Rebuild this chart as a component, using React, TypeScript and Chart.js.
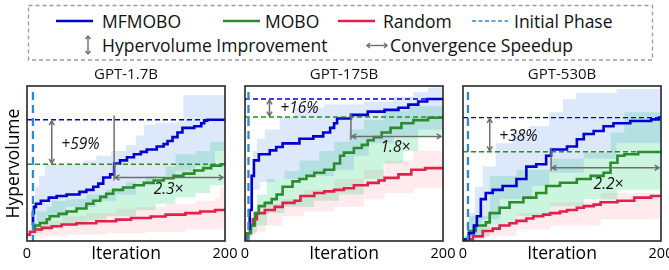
import React, { useEffect, useRef } from 'react';
import { Chart, registerables } from 'chart.js';

Chart.register(...registerables);

type Pt = [number, number];

// ---------------- data ----------------
const panelTitles = ['GPT-1.7B', 'GPT-175B', 'GPT-530B'];
const xTickLabels = ['0', '200'];
const xAxisTitle = 'Iteration';
const yAxisTitle = 'Hypervolume';
const seriesNames = ['MFMOBO', 'MOBO', 'Random'];
const initialPhaseEnd = [6, 3.5, 5];
const improvementLabels = ['+59%', '+16%', '+38%'];
const speedupLabels = ['2.3×', '1.8×', '2.2×'];

// GPT-1.7B
const p1Mfmobo: Pt[] = [[5,10],[6,18],[7,22],[9,24],[14,26],[22,28],[30,29],[40,30],[53,31.7],[60,33],[67,35],[72,37],[77,41],[84,43],[88,50],[94,52],[101,54],[108,56],[115,57.5],[121,59],[131,61],[138,62.5],[142,64.5],[147,67],[152,70],[157,73],[169,74],[176,76],[179,77.6],[182,78.2],[200,78.2]];
const p1MfmoboUpper: Pt[] = [[5,12],[6,25],[8,35],[12,42],[18,49],[40,50],[57,52],[70,55],[85,58],[100,62],[110,68],[118,75],[130,76],[150,77],[158,94],[200,96]];
const p1MfmoboLower: Pt[] = [[5,8],[10,12],[20,16],[40,22],[70,26],[90,30],[110,38],[130,42],[150,45],[170,48],[190,58],[200,62]];
const p1Mobo: Pt[] = [[5,8],[8,10],[13,11.6],[20,14],[23,16],[32,17.5],[40,19],[50,21],[60,24],[67,26],[74,28.5],[80,30.5],[87,33],[97,34.5],[108,36],[118,37.5],[128,39],[138,40.5],[148,42],[158,43.5],[169,45.5],[178,47],[186,48.6],[196,49.5],[200,49.5]];
const p1MoboUpper: Pt[] = [[5,12],[10,19],[20,22],[25,26],[40,27],[60,30],[80,33],[100,38],[120,42],[140,48],[150,56],[170,58],[185,64],[200,64]];
const p1MoboLower: Pt[] = [[5,5],[15,8],[30,10],[60,13],[80,16],[110,20],[130,24],[150,28],[170,31],[185,36],[200,40]];
const p1Random: Pt[] = [[0,4],[3,6],[8,7.4],[15,8.5],[25,9.5],[35,10.6],[50,11.5],[70,12.7],[90,13.8],[105,14.8],[125,15.8],[140,17],[160,18],[175,19],[190,20],[200,21]];
const p1RandomUpper: Pt[] = [[0,5],[5,10],[15,13],[35,16],[60,18],[90,21],[110,22],[140,24],[170,26],[190,28],[195,35],[200,35]];
const p1RandomLower: Pt[] = [[0,2],[10,3],[40,4],[80,5],[120,6],[160,7.5],[200,8.5]];

// GPT-175B
const p2Mfmobo: Pt[] = [[3,8],[4.8,20],[6.8,42],[9,52],[14,56],[25,58.5],[31.5,60.6],[38,63],[55,66],[69,67.5],[79,70],[86,73],[90,76],[93,79],[107,81.4],[124,83.5],[141,84.6],[155,86],[165,88],[175,90],[184,91.6],[200,91.6]];
const p2MfmoboUpper: Pt[] = [[3,10],[5,40],[8,58],[12,66],[20,72],[35,80],[50,86],[80,88],[120,90],[150,93],[170,96],[185,99],[200,100]];
const p2MfmoboLower: Pt[] = [[3,5],[5,20],[8,33],[15,38],[30,40],[60,42],[90,46],[110,55],[125,63],[150,68],[175,72],[200,74]];
const p2Mobo: Pt[] = [[0,3],[3,5],[6,10],[10,18],[14,22.5],[20,24.6],[27,27],[32,30],[38,35],[48,38.5],[55,40],[62,42],[70,44],[80,46],[90,50],[96,55],[100,57],[110,60],[118,62],[124,65],[130,67],[138,70],[147,73],[158,76],[170,78],[185,79.5],[200,80]];
const p2MoboUpper: Pt[] = [[0,4],[6,15],[12,30],[22,40],[40,45],[55,52],[75,58],[90,64],[105,72],[120,78],[140,84],[165,87],[200,89]];
const p2MoboLower: Pt[] = [[0,2],[6,5],[12,10],[22,18],[40,22],[70,26],[95,30],[120,40],[140,50],[160,58],[175,68],[200,72]];
const p2Random: Pt[] = [[0,1],[2,5],[5,10],[8,14],[12,18],[20,20],[30,22],[38,24.6],[50,26],[56,29],[70,31],[80,32],[90,33],[100,34],[110,36],[124,37.5],[135,39],[141,40.7],[155,43],[168,46],[182,47],[200,48]];
const p2RandomUpper: Pt[] = [[0,3],[5,12],[10,18],[20,24],[38,27],[60,33],[90,40],[120,46],[141,52],[170,58],[200,65]];
const p2RandomLower: Pt[] = [[0,0],[5,3],[10,6],[20,10],[38,16],[60,19],[90,22],[120,27],[141,31],[170,34],[200,37.5]];

// GPT-530B
const p3Mfmobo: Pt[] = [[1,1],[6,5],[11,10],[14,16],[18,27],[23,31],[30,33],[40,35.5],[54,40],[64,48],[74,49.5],[84,55],[89,59],[105,61],[115,65.6],[122,69],[132,71],[142,74],[152,76],[169,77.4],[190,78.5],[198,79.6],[200,79.6]];
const p3MfmoboUpper: Pt[] = [[1,3],[6,18],[12,35],[20,48],[33,63],[50,70],[67,74],[87,83],[101,91.5],[114,95.5],[155,98],[200,99]];
const p3MfmoboLower: Pt[] = [[1,0],[6,3],[20,14],[37,27],[70,35.5],[87,44],[122,53],[155,63],[200,68]];
const p3Mobo: Pt[] = [[1,1],[6,6.5],[13,10],[23,12],[27,18],[37,21.5],[47,25],[61,28],[74,31],[84,35.5],[98,37.6],[115,40],[129,42],[142,44],[149,50.5],[156,55],[163,56],[177,57.4],[200,57.6]];
const p3MoboUpper: Pt[] = [[1,3],[6,16],[27,42],[54,46],[88,53],[122,57],[149,70],[163,83],[200,83]];
const p3MoboLower: Pt[] = [[1,0],[6,3],[27,10],[54,16],[88,22.5],[122,27],[156,33],[200,35.5]];
const p3Random: Pt[] = [[0,1],[10,3],[20,6.5],[30,8],[37,10],[47,11.5],[54,13],[64,14.5],[71,16],[81,17],[88,18],[98,19],[105,20],[115,21.5],[122,22.5],[132,23.5],[139,25],[156,26],[173,28],[190,29],[200,29]];
const p3RandomUpper: Pt[] = [[0,2],[20,10],[54,18],[88,25],[139,31],[200,37.6]];
const p3RandomLower: Pt[] = [[0,0],[20,3],[54,7.5],[88,10],[139,14],[200,18]];

const panelMeans: Pt[][][] = [
  [p1Mfmobo, p1Mobo, p1Random],
  [p2Mfmobo, p2Mobo, p2Random],
  [p3Mfmobo, p3Mobo, p3Random],
];
const panelUppers: Pt[][][] = [
  [p1MfmoboUpper, p1MoboUpper, p1RandomUpper],
  [p2MfmoboUpper, p2MoboUpper, p2RandomUpper],
  [p3MfmoboUpper, p3MoboUpper, p3RandomUpper],
];
const panelLowers: Pt[][][] = [
  [p1MfmoboLower, p1MoboLower, p1RandomLower],
  [p2MfmoboLower, p2MoboLower, p2RandomLower],
  [p3MfmoboLower, p3MoboLower, p3RandomLower],
];

// ---------------- styles / layout ----------------
const FONT = "'Open Sans', Lato, sans-serif";
const LINE_COLORS = ['#0000d2', '#2a8c2a', '#e2204c'];
const BAND_COLORS = ['rgba(100,150,230,0.22)', 'rgba(40,215,125,0.24)', 'rgba(255,130,155,0.17)'];
const INIT_COLOR = '#2f88d2';
const GRAY = '#6e6e6e';

Chart.defaults.font.family = FONT;

// annotation placement (data units)
const annotPlacement = [
  { vArrowX: 25, pctX: 54, pctY: 62, crossTop: 81, hArrowY: 41, speedX: 143, speedY: 33 },
  { vArrowX: 24.7, pctX: 55, pctY: 85.7, crossTop: 82.4, hArrowY: 67.5, speedX: 152, speedY: 60 },
  { vArrowX: 27, pctX: 56, pctY: 67.3, crossTop: 60.2, hArrowY: 47.3, speedX: 147, speedY: 36.6 },
];

const canvasGeom = [
  { left: 0, width: 241, padRight: 16 },
  { left: 218, width: 241, padRight: 16 },
  { left: 436, width: 233, padRight: 8 },
];
const CANVAS_TOP = 60;
const CANVAS_H = 210;

function doubleArrow(ctx: CanvasRenderingContext2D, x1: number, y1: number, x2: number, y2: number, size = 5) {
  ctx.beginPath();
  ctx.moveTo(x1, y1);
  ctx.lineTo(x2, y2);
  ctx.stroke();
  const ang = Math.atan2(y2 - y1, x2 - x1);
  const head = (x: number, y: number, a: number) => {
    ctx.beginPath();
    ctx.moveTo(x + size * Math.cos(a + 2.6), y + size * Math.sin(a + 2.6));
    ctx.lineTo(x, y);
    ctx.lineTo(x + size * Math.cos(a - 2.6), y + size * Math.sin(a - 2.6));
    ctx.stroke();
  };
  head(x2, y2, ang);
  head(x1, y1, ang + Math.PI);
}

function makeAnnotPlugin(idx: number) {
  return {
    id: 'panelAnnot' + idx,
    afterDatasetsDraw(chart: any) {
      const { ctx, chartArea: a, scales } = chart;
      const X = (v: number) => scales.x.getPixelForValue(v);
      const Y = (v: number) => scales.y.getPixelForValue(v);
      const blue = panelMeans[idx][0];
      const green = panelMeans[idx][1];
      const blueLevel = blue[blue.length - 1][1];
      const greenLevel = green[green.length - 1][1];
      const cross = (blue.find((p) => p[1] >= greenLevel) || blue[blue.length - 1])[0];
      const L = annotPlacement[idx];
      ctx.save();
      ctx.lineWidth = 1.4;
      ctx.setLineDash([5, 3]);
      ctx.strokeStyle = LINE_COLORS[0];
      ctx.beginPath(); ctx.moveTo(a.left, Y(blueLevel)); ctx.lineTo(a.right, Y(blueLevel)); ctx.stroke();
      ctx.strokeStyle = LINE_COLORS[1];
      ctx.beginPath(); ctx.moveTo(a.left, Y(greenLevel)); ctx.lineTo(a.right, Y(greenLevel)); ctx.stroke();
      // initial phase
      ctx.strokeStyle = INIT_COLOR;
      ctx.lineWidth = 2.3;
      ctx.setLineDash([8, 5]);
      ctx.beginPath(); ctx.moveTo(X(initialPhaseEnd[idx]), a.top + 6); ctx.lineTo(X(initialPhaseEnd[idx]), a.bottom); ctx.stroke();
      ctx.setLineDash([]);
      // improvement arrow
      ctx.strokeStyle = GRAY;
      ctx.lineWidth = 1.5;
      doubleArrow(ctx, X(L.vArrowX), Y(blueLevel) + 1, X(L.vArrowX), Y(greenLevel) - 1);
      // speed-up marker and arrow
      ctx.beginPath(); ctx.moveTo(X(cross), Y(L.crossTop)); ctx.lineTo(X(cross), Y(L.hArrowY) + 3); ctx.stroke();
      doubleArrow(ctx, X(cross) + 1, Y(L.hArrowY), a.right - 2, Y(L.hArrowY));
      // labels
      ctx.fillStyle = '#111';
      ctx.font = `italic 15.5px ${FONT}`;
      ctx.textAlign = 'center';
      ctx.textBaseline = 'middle';
      ctx.fillText(improvementLabels[idx], X(L.pctX), Y(L.pctY));
      ctx.fillText(speedupLabels[idx], X(L.speedX), Y(L.speedY));
      ctx.restore();
    },
    afterDraw(chart: any) {
      const { ctx, chartArea: a } = chart;
      ctx.save();
      ctx.strokeStyle = '#262626';
      ctx.lineWidth = 1.6;
      ctx.strokeRect(a.left, a.top, a.right - a.left, a.bottom - a.top);
      ctx.restore();
    },
  };
}

const toXY = (pts: Pt[]) => pts.map(([x, y]) => ({ x, y }));

function Panel({ idx }: { idx: number }) {
  const ref = useRef<HTMLCanvasElement>(null);
  const g = canvasGeom[idx];
  useEffect(() => {
    const datasets: any[] = [];
    for (let i = 0; i < 3; i++) {
      datasets.push({
        label: seriesNames[i],
        data: toXY(panelMeans[idx][i]),
        borderColor: LINE_COLORS[i],
        backgroundColor: LINE_COLORS[i],
        borderWidth: 2.6,
        stepped: true,
        pointRadius: 0,
        fill: false,
        order: i,
      });
    }
    for (let i = 0; i < 3; i++) {
      datasets.push({
        label: seriesNames[i] + ' upper',
        data: toXY(panelUppers[idx][i]),
        borderColor: 'rgba(0,0,0,0)',
        backgroundColor: BAND_COLORS[i],
        borderWidth: 0,
        stepped: true,
        pointRadius: 0,
        fill: '+1',
        order: 3 + i,
      });
      datasets.push({
        label: seriesNames[i] + ' lower',
        data: toXY(panelLowers[idx][i]),
        borderColor: 'rgba(0,0,0,0)',
        backgroundColor: 'rgba(0,0,0,0)',
        borderWidth: 0,
        stepped: true,
        pointRadius: 0,
        fill: false,
        order: 3 + i,
      });
    }
    const chart = new Chart(ref.current!, {
      type: 'line',
      data: { datasets },
      plugins: [makeAnnotPlugin(idx)],
      options: {
        responsive: false,
        animation: false,
        devicePixelRatio: 1,
        layout: { padding: { left: 0, right: g.padRight, top: 0, bottom: 0 } },
        plugins: {
          legend: { display: false },
          tooltip: { enabled: false },
          title: {
            display: true,
            fullSize: false,
            text: panelTitles[idx],
            color: '#111',
            font: { family: FONT, size: 15, weight: 'normal' },
            padding: { top: 5.7, bottom: 2.3 },
          },
        },
        scales: {
          x: {
            type: 'linear',
            min: 0,
            max: 200,
            grid: { display: false, drawTicks: false },
            border: { display: false },
            ticks: {
              stepSize: 200,
              autoSkip: false,
              maxRotation: 0,
              padding: 4,
              color: '#000',
              font: { family: FONT, size: 14.5, weight: 'normal' },
              callback: (v: any) => (v === 0 ? xTickLabels[0] : v === 200 ? xTickLabels[1] : ''),
            },
            title: {
              display: true,
              text: xAxisTitle,
              color: '#000',
              font: { family: FONT, size: 17.5, weight: 'normal' },
              padding: { top: 0, bottom: 5.5 },
            },
            afterFit: (s: any) => { s.height = 29; s.paddingLeft = 0; s.paddingRight = 0; },
          },
          y: {
            min: 0,
            max: 100,
            grid: { display: false, drawTicks: false },
            border: { display: false },
            ticks: { display: false },
            title: {
              display: idx === 0,
              text: yAxisTitle,
              color: '#000',
              font: { family: FONT, size: 17.5, weight: 'normal' },
              padding: { top: 3.5, bottom: 0 },
            },
            afterFit: (s: any) => { s.width = 27; s.paddingTop = 0; s.paddingBottom = 0; },
          },
        },
      } as any,
    });
    return () => chart.destroy();
  }, [idx]);
  return (
    <canvas
      ref={ref}
      width={g.width}
      height={CANVAS_H}
      style={{ position: 'absolute', left: g.left, top: CANVAS_TOP, width: g.width, height: CANVAS_H }}
    />
  );
}

function LegendText({ text, left, cy }: { text: string; left: number; cy: number }) {
  return (
    <span
      style={{
        position: 'absolute', left, top: cy - 12.5, height: 24, lineHeight: '24px',
        fontSize: 17.5, fontFamily: FONT, color: '#111', whiteSpace: 'nowrap',
      }}
    >
      {text}
    </span>
  );
}

function Legend() {
  const r1 = 21;
  const r2 = 45.5;
  return (
    <>
      <svg width={669} height={70} style={{ position: 'absolute', left: 0, top: 0 }}>
        <rect x={28.5} y={5.5} width={624} height={54.5} fill="none" stroke="#9a9a9a" strokeWidth={1.3} strokeDasharray="4 3" />
        <line x1={56} x2={93} y1={r1} y2={r1} stroke={LINE_COLORS[0]} strokeWidth={2.4} />
        <line x1={223} x2={260} y1={r1} y2={r1} stroke={LINE_COLORS[1]} strokeWidth={2.4} />
        <line x1={338} x2={375} y1={r1} y2={r1} stroke={LINE_COLORS[2]} strokeWidth={2.4} />
        <line x1={472} x2={508} y1={r1} y2={r1} stroke={INIT_COLOR} strokeWidth={1.6} strokeDasharray="4 2.5" />
        <g stroke={GRAY} strokeWidth={1.4} fill="none">
          <line x1={88} x2={88} y1={36} y2={54} />
          <polyline points="85.5,39 88,36 90.5,39" />
          <polyline points="85.5,51 88,54 90.5,51" />
          <line x1={367} x2={387} y1={r2} y2={r2} />
          <polyline points="370,42.5 367,45 370,47.5" transform="translate(0,0.5)" />
          <polyline points="384,42.5 387,45 384,47.5" transform="translate(0,0.5)" />
        </g>
      </svg>
      <LegendText text={seriesNames[0]} left={102} cy={r1} />
      <LegendText text={seriesNames[1]} left={265} cy={r1} />
      <LegendText text={seriesNames[2]} left={383} cy={r1} />
      <LegendText text="Initial Phase" left={514} cy={r1} />
      <LegendText text="Hypervolume Improvement" left={102} cy={r2} />
      <LegendText text="Convergence Speedup" left={390} cy={r2} />
    </>
  );
}

export default function App() {
  return (
    <div style={{ position: 'fixed', left: 0, top: 0, width: 669, height: 270, background: '#fff', overflow: 'hidden' }}>
      <Legend />
      <Panel idx={0} />
      <Panel idx={1} />
      <Panel idx={2} />
    </div>
  );
}
